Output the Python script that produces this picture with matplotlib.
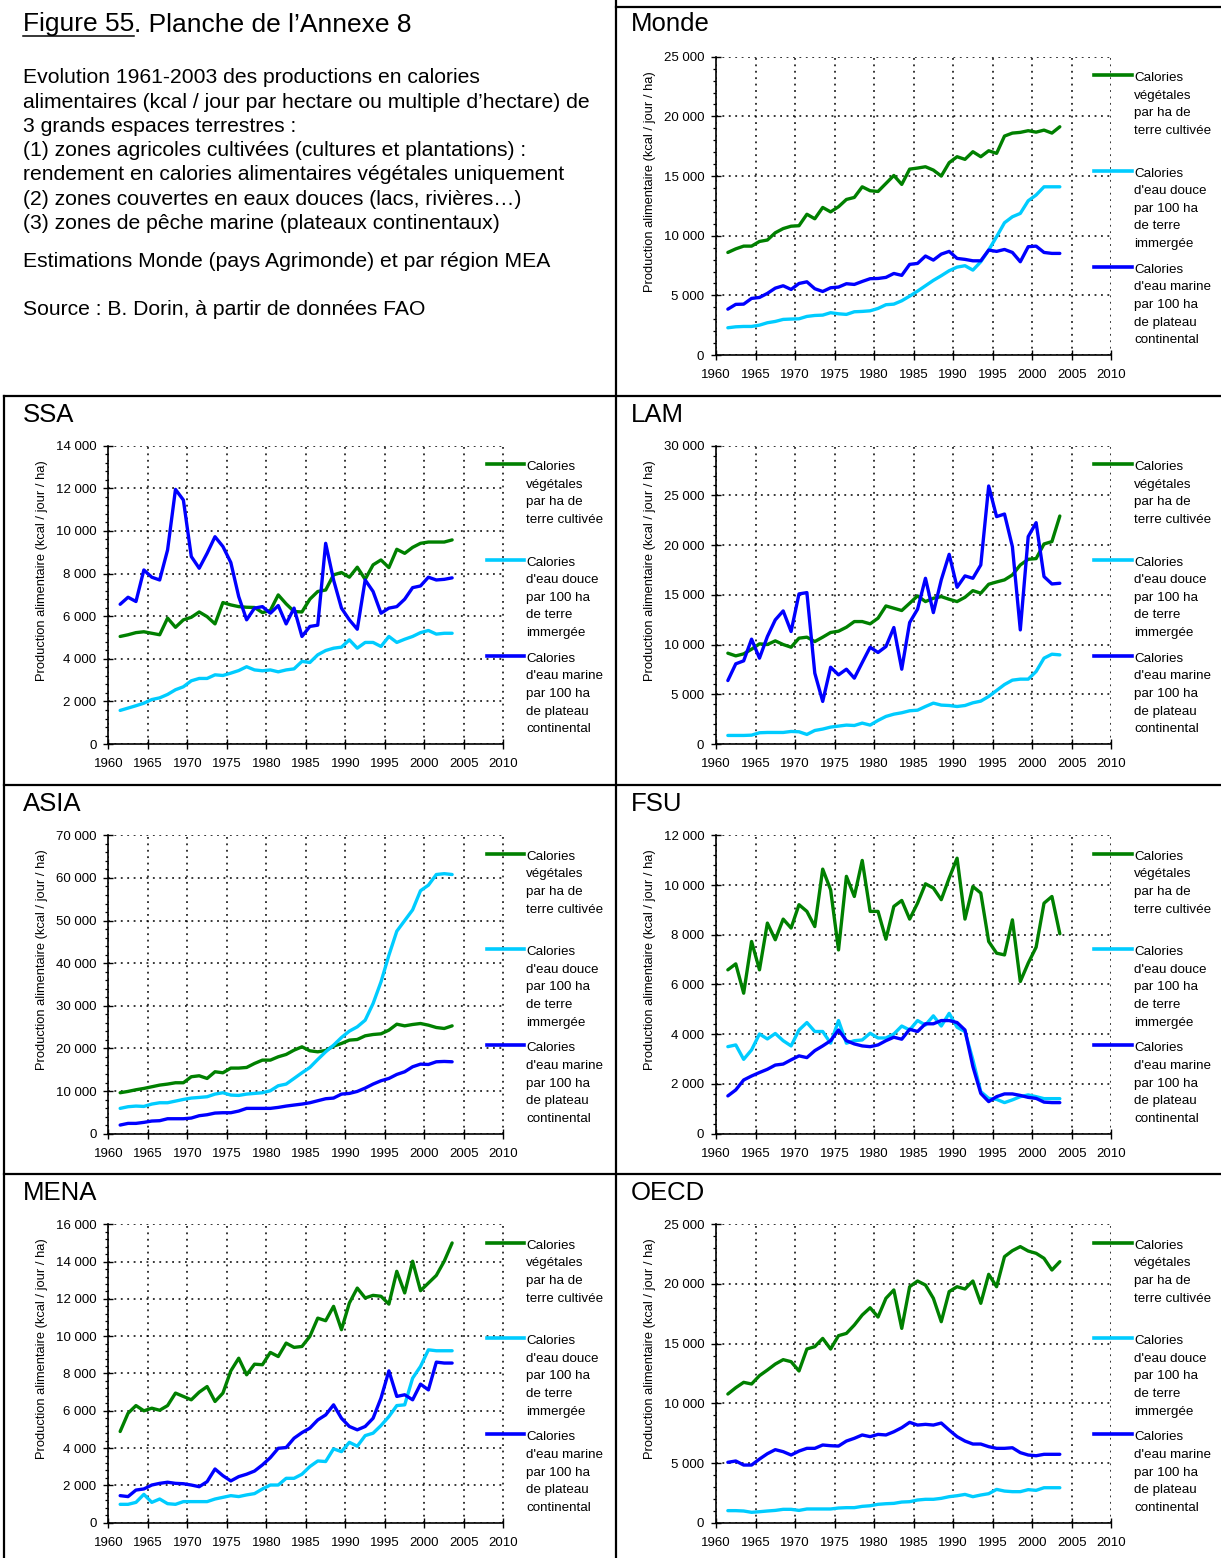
import numpy as np
import matplotlib
matplotlib.use("Agg")
import matplotlib.pyplot as plt
from matplotlib.lines import Line2D
from matplotlib.ticker import MultipleLocator, AutoMinorLocator, FuncFormatter

plt.rcParams['font.family'] = ['Liberation Sans', 'DejaVu Sans']

# ---------------------------------------------------------------- data
YEARS = np.arange(1961, 2004)

MONDE_VEG = [8600, 8900, 9130, 9130, 9520, 9640, 10250, 10600, 10800, 10840, 11800, 11420, 12370, 12000, 12430,
             13040, 13210, 14100, 13770, 13710, 14380, 15050, 14300, 15580, 15670, 15780, 15500, 15000, 16120,
             16620, 16400, 17040, 16620, 17120, 16900, 18350, 18600, 18660, 18800, 18680, 18850, 18600, 19130]
MONDE_DOUCE = [2290, 2370, 2400, 2400, 2510, 2710, 2820, 2990, 3020, 3040, 3240, 3320, 3350, 3550, 3460, 3410,
               3630, 3660, 3710, 3910, 4220, 4270, 4550, 4940, 5360, 5810, 6260, 6650, 7070, 7370, 7490, 7120,
               7820, 8800, 9920, 11090, 11590, 11870, 12930, 13410, 14100, 14100, 14100]
MONDE_MARINE = [3850, 4250, 4270, 4750, 4830, 5170, 5610, 5810, 5500, 6000, 6140, 5560, 5330, 5640, 5700, 5980,
                5920, 6170, 6400, 6420, 6510, 6840, 6680, 7600, 7680, 8300, 7960, 8460, 8690, 8100, 8020, 7900,
                7900, 8800, 8690, 8850, 8600, 7820, 9080, 9130, 8600, 8520, 8520]

SSA_VEG = [5050, 5130, 5230, 5270, 5200, 5130, 5910, 5480, 5830, 5950, 6200, 5980, 5640, 6640, 6530, 6450, 6420,
           6410, 6170, 6270, 7000, 6580, 6220, 6200, 6800, 7160, 7230, 7940, 8050, 7830, 8300, 7730, 8410, 8640,
           8280, 9140, 8950, 9230, 9420, 9480, 9480, 9480, 9580]
SSA_DOUCE = [1580, 1690, 1800, 1920, 2090, 2170, 2330, 2550, 2690, 2970, 3080, 3080, 3250, 3220, 3330, 3450, 3630,
             3480, 3440, 3480, 3390, 3480, 3530, 3880, 3830, 4190, 4390, 4500, 4550, 4890, 4500, 4770, 4770, 4580,
             5050, 4770, 4920, 5050, 5230, 5330, 5160, 5200, 5200]
SSA_MARINE = [6560, 6890, 6690, 8170, 7830, 7700, 9110, 11950, 11450, 8800, 8250, 8950, 9730, 9270, 8520, 6920,
              5830, 6380, 6450, 6140, 6500, 5640, 6380, 5050, 5520, 5580, 9420, 7700, 6380, 5830, 5390, 7700, 7160,
              6140, 6380, 6450, 6800, 7340, 7420, 7830, 7700, 7730, 7800]

LAM_VEG = [9140, 8870, 9070, 9540, 10080, 10010, 10380, 10010, 9740, 10650, 10750, 10310, 10750, 11220, 11350,
           11750, 12320, 12320, 12090, 12660, 13890, 13660, 13430, 14160, 14900, 14330, 14660, 14830, 14560, 14330,
           14760, 15430, 15170, 16070, 16300, 16510, 17010, 18010, 18580, 18650, 20120, 20360, 22930]
LAM_DOUCE = [870, 870, 870, 900, 1140, 1170, 1170, 1170, 1270, 1240, 970, 1370, 1510, 1710, 1810, 1910, 1870,
             2110, 1910, 2380, 2780, 3010, 3150, 3350, 3410, 3780, 4120, 3920, 3880, 3780, 3880, 4150, 4320, 4790,
             5390, 5990, 6430, 6530, 6530, 7300, 8640, 9040, 8970]
LAM_MARINE = [6390, 8070, 8370, 10550, 8640, 10810, 12490, 13390, 11320, 15100, 15230, 7130, 4290, 7730, 6960,
              7530, 6630, 8200, 9740, 9210, 9810, 11720, 7530, 12220, 13560, 16670, 13220, 16510, 19080, 15770,
              16910, 16670, 18010, 25950, 22870, 23130, 19850, 11480, 20860, 22260, 16840, 16100, 16170]

ASIA_VEG = [9610, 9920, 10310, 10620, 11010, 11400, 11640, 11950, 11950, 13360, 13590, 12960, 14530, 14290, 15390,
            15390, 15540, 16480, 17260, 17260, 18040, 18590, 19600, 20380, 19450, 19210, 19530, 20540, 21170, 21950,
            22100, 22960, 23270, 23430, 24290, 25690, 25300, 25620, 25850, 25460, 24910, 24680, 25300]
ASIA_DOUCE = [5940, 6330, 6480, 6400, 6950, 7260, 7260, 7650, 8040, 8360, 8510, 8670, 9290, 9610, 9060, 8980,
              9290, 9450, 9610, 10070, 11250, 11640, 12960, 14290, 15540, 17420, 19210, 20770, 22570, 24060, 25070,
              26630, 30540, 35610, 41860, 47500, 50000, 52500, 57000, 58300, 60800, 61000, 60800]
ASIA_MARINE = [2030, 2420, 2420, 2660, 2970, 3050, 3510, 3510, 3510, 3670, 4220, 4450, 4840, 4920, 4920, 5310,
               5940, 5940, 5940, 5940, 6170, 6480, 6720, 6950, 7260, 7730, 8200, 8360, 9290, 9450, 9920, 10700,
               11640, 12420, 12960, 13900, 14530, 15700, 16320, 16240, 16870, 16950, 16870]

FSU_VEG = [6590, 6830, 5650, 7730, 6590, 8470, 7800, 8630, 8270, 9210, 8940, 8330, 10640, 9810, 7390, 10350, 9540,
           10990, 8940, 8940, 7820, 9140, 9380, 8630, 9270, 10050, 9880, 9410, 10280, 11080, 8630, 9940, 9680,
           7730, 7260, 7190, 8600, 6120, 6860, 7500, 9270, 9540, 8040]
FSU_DOUCE = [3500, 3570, 2990, 3370, 4010, 3810, 4030, 3740, 3530, 4170, 4470, 4110, 4110, 3640, 4550, 3640, 3740,
             3770, 4040, 3850, 3850, 4010, 4330, 4170, 4550, 4370, 4740, 4330, 4840, 4280, 4110, 2970, 1690, 1420,
             1380, 1250, 1360, 1490, 1560, 1490, 1410, 1410, 1410]
FSU_MARINE = [1520, 1760, 2160, 2320, 2460, 2590, 2760, 2800, 2970, 3130, 3060, 3340, 3530, 3740, 4170, 3740,
              3610, 3530, 3500, 3570, 3740, 3880, 3800, 4200, 4110, 4420, 4420, 4550, 4550, 4470, 4170, 2700, 1620,
              1290, 1490, 1600, 1600, 1540, 1460, 1420, 1270, 1250, 1250]

MENA_VEG = [4890, 5870, 6280, 6000, 6140, 6030, 6280, 6950, 6770, 6590, 7000, 7300, 6500, 6950, 8140, 8820, 7930,
            8500, 8470, 9130, 8910, 9630, 9400, 9450, 9990, 10970, 10830, 11600, 10350, 11780, 12580, 12050, 12190,
            12140, 11720, 13480, 12320, 14020, 12440, 12850, 13260, 14020, 15000]
MENA_DOUCE = [985, 985, 1090, 1520, 1090, 1270, 1020, 985, 1130, 1130, 1130, 1130, 1270, 1360, 1450, 1400, 1490,
              1560, 1810, 2020, 2020, 2380, 2380, 2600, 3010, 3310, 3280, 3960, 3810, 4310, 4100, 4670, 4800, 5210,
              5690, 6280, 6320, 7750, 8380, 9270, 9220, 9220, 9220]
MENA_MARINE = [1450, 1400, 1750, 1810, 2020, 2110, 2170, 2110, 2090, 2020, 1930, 2200, 2880, 2520, 2240, 2470,
               2600, 2770, 3100, 3490, 3990, 4030, 4530, 4830, 5070, 5510, 5780, 6320, 5600, 5160, 4980, 5160, 5600,
               6680, 8140, 6770, 6860, 6590, 7430, 7120, 8610, 8560, 8560]

OECD_VEG = [10780, 11310, 11760, 11620, 12320, 12790, 13290, 13660, 13490, 12710, 14550, 14750, 15440, 14550,
            15670, 15860, 16560, 17400, 18010, 17230, 18800, 19500, 16280, 19770, 20250, 19910, 18800, 16840, 19360,
            19770, 19580, 20250, 18380, 20810, 19770, 22290, 22790, 23130, 22760, 22570, 22150, 21170, 21870]
OECD_DOUCE = [1010, 1010, 980, 870, 920, 980, 1030, 1120, 1120, 1030, 1150, 1150, 1150, 1150, 1230, 1260, 1260,
              1370, 1420, 1540, 1590, 1620, 1730, 1760, 1900, 1960, 1960, 2040, 2180, 2260, 2370, 2180, 2320, 2430,
              2790, 2650, 2600, 2600, 2770, 2710, 2930, 2930, 2930]
OECD_MARINE = [5060, 5170, 4830, 4830, 5330, 5780, 6120, 5950, 5670, 6000, 6230, 6230, 6510, 6450, 6420, 6840,
               7070, 7350, 7210, 7400, 7350, 7620, 7960, 8410, 8180, 8240, 8180, 8350, 7760, 7210, 6840, 6590, 6590,
               6370, 6230, 6230, 6280, 5870, 5670, 5610, 5730, 5730, 5730]

REGIONS = ["Monde", "SSA", "LAM", "ASIA", "FSU", "MENA", "OECD"]
REGION_SERIES = {
    "Monde": (MONDE_VEG, MONDE_DOUCE, MONDE_MARINE),
    "SSA": (SSA_VEG, SSA_DOUCE, SSA_MARINE),
    "LAM": (LAM_VEG, LAM_DOUCE, LAM_MARINE),
    "ASIA": (ASIA_VEG, ASIA_DOUCE, ASIA_MARINE),
    "FSU": (FSU_VEG, FSU_DOUCE, FSU_MARINE),
    "MENA": (MENA_VEG, MENA_DOUCE, MENA_MARINE),
    "OECD": (OECD_VEG, OECD_DOUCE, OECD_MARINE),
}
Y_MAX = {"Monde": 25000, "SSA": 14000, "LAM": 30000, "ASIA": 70000, "FSU": 12000, "MENA": 16000, "OECD": 25000}
Y_STEP = {"Monde": 5000, "SSA": 2000, "LAM": 5000, "ASIA": 10000, "FSU": 2000, "MENA": 2000, "OECD": 5000}
X_TICKS = list(range(1960, 2011, 5))

SERIES_LABELS = ["Calories\nvégétales\npar ha de\nterre cultivée",
                 "Calories\nd'eau douce\npar 100 ha\nde terre\nimmergée",
                 "Calories\nd'eau marine\npar 100 ha\nde plateau\ncontinental"]
SERIES_COLORS = ["#008000", "#00CCFF", "#0000FF"]
Y_LABEL = "Production alimentaire (kcal / jour / ha)"

TITLE_A = "Figure 55"
TITLE_B = ". Planche de l\u2019Annexe 8"
BODY_LINES = [
    "Evolution 1961-2003 des productions en calories",
    "alimentaires (kcal / jour par hectare ou multiple d\u2019hectare) de",
    "3 grands espaces terrestres :",
    "(1) zones agricoles cultivées (cultures et plantations) :",
    "rendement en calories alimentaires végétales uniquement",
    "(2) zones couvertes en eaux douces (lacs, rivières\u2026)",
    "(3) zones de pêche marine (plateaux continentaux)",
]
NOTE_LINES = ["Estimations Monde (pays Agrimonde) et par région MEA",
              "Source : B. Dorin, à partir de données FAO"]

# ---------------------------------------------------------------- layout (pixels)
W, H = 1221, 1558
COL_X = [108.3, 716.0]
AX_W = 395.2
ROW_TOP = [56.7, 445.7, 835.3, 1224.3]
AX_H = 298.4
PANEL_CELL = {"Monde": (0, 1), "SSA": (1, 0), "LAM": (1, 1), "ASIA": (2, 0),
              "FSU": (2, 1), "MENA": (3, 0), "OECD": (3, 1)}
TITLE_X = [23, 631]
TITLE_BASE = [31, 422, 811, 1200]
LEG_Y = [0.938, 0.618, 0.296]


def fx(x):
    return x / W


def fy(y):
    return 1 - y / H


def thousands(v, _pos):
    return f"{int(round(v)):,}".replace(",", " ")


fig = plt.figure(figsize=(W / 100, H / 100), dpi=100)
fig.patch.set_facecolor("white")

GRID_STYLE = dict(color="black", linestyle=(0, (1.2, 3.0)), linewidth=1.1)

for region in REGIONS:
    row, col = PANEL_CELL[region]
    ax = fig.add_axes([fx(COL_X[col]), fy(ROW_TOP[row] + AX_H), AX_W / W, AX_H / H])
    for values, color in zip(REGION_SERIES[region], SERIES_COLORS):
        # annual values plotted at mid-year
        ax.plot(YEARS + 0.5, values, color=color, lw=2.4, solid_joinstyle="round",
                solid_capstyle="round", zorder=3)
    ax.set_xlim(1960, 2010)
    ax.set_ylim(0, Y_MAX[region])
    ax.set_xticks(X_TICKS)
    ax.yaxis.set_major_locator(MultipleLocator(Y_STEP[region]))
    ax.yaxis.set_minor_locator(AutoMinorLocator(5))
    ax.yaxis.set_major_formatter(FuncFormatter(thousands))
    ax.grid(True, which="major", **GRID_STYLE)
    ax.set_axisbelow(True)
    for side in ("top", "right"):
        ax.spines[side].set_visible(False)
    for side in ("left", "bottom"):
        ax.spines[side].set_linewidth(1.2)
        ax.spines[side].set_zorder(4)
    ax.tick_params(axis="both", which="major", direction="inout", length=7, width=1.0,
                   labelsize=9.5, colors="black")
    ax.tick_params(axis="x", which="major", pad=6.5)
    ax.tick_params(axis="y", which="major", pad=5)
    ax.tick_params(axis="y", which="minor", direction="out", length=2.5, width=0.9)
    ax.text(-0.167, 0.583, Y_LABEL, transform=ax.transAxes, rotation=90,
            ha="center", va="center", fontsize=9.3)

    # legend: swatch + multi-line label for each series
    for label, color, ly in zip(SERIES_LABELS, SERIES_COLORS, LEG_Y):
        ax.add_line(Line2D([0.957, 1.053], [ly, ly], transform=ax.transAxes, color=color,
                           lw=2.6, clip_on=False, zorder=5))
        ax.text(1.058, ly + 0.01, label, transform=ax.transAxes, ha="left", va="top",
                fontsize=9.6, linespacing=1.62)

    fig.text(fx(TITLE_X[col]), fy(TITLE_BASE[row]), region, ha="left", va="baseline", fontsize=18.5)

# ---------------------------------------------------------------- text block
renderer = fig.canvas.get_renderer()
t1 = fig.text(fx(23), fy(31.5), TITLE_A, ha="left", va="baseline", fontsize=19)
bb = t1.get_window_extent(renderer=renderer)
fig.text(bb.x1 / W, fy(31.5), TITLE_B, ha="left", va="baseline", fontsize=19)
fig.add_artist(Line2D([fx(23), bb.x1 / W], [fy(35.5), fy(35.5)], transform=fig.transFigure,
                      color="black", lw=1.1))
for i, line in enumerate(BODY_LINES):
    fig.text(fx(23), fy(83.3 + 24.3 * i), line, ha="left", va="baseline", fontsize=15.2)
fig.text(fx(23), fy(266.7), NOTE_LINES[0], ha="left", va="baseline", fontsize=15.2)
fig.text(fx(23), fy(315), NOTE_LINES[1], ha="left", va="baseline", fontsize=15.2)

# ---------------------------------------------------------------- panel frame
FRAME = [
    ((616, 0), (616, H)),
    ((616, 7), (W, 7)),
    ((4, 396), (4, H)),
    ((4, 396), (W, 396)),
    ((4, 785), (W, 785)),
    ((4, 1174), (W, 1174)),
]
for (x0, y0), (x1, y1) in FRAME:
    fig.add_artist(Line2D([fx(x0), fx(x1)], [fy(y0), fy(y1)], transform=fig.transFigure,
                          color="black", lw=1.6))

fig.savefig("out.png", dpi=100, facecolor="white")
